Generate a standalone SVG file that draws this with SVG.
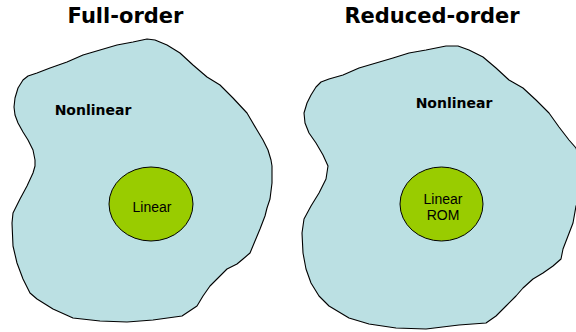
<svg xmlns="http://www.w3.org/2000/svg" width="576" height="332" viewBox="0 0 576 332">
  <style>
    .title { font-family: "DejaVu Sans", Verdana, sans-serif; font-weight: bold; font-size: 21px; fill: #000; text-anchor: middle; }
    .region { fill: #BBE0E3; stroke: #000; stroke-width: 1.1; stroke-linejoin: round; }
    .regionLabel { font-family: "DejaVu Sans", Verdana, sans-serif; font-weight: bold; font-size: 14px; fill: #000; text-anchor: middle; }
    .core { fill: #99CC00; stroke: #000; stroke-width: 1; }
    .coreLabel { font-family: "Liberation Sans", Arial, sans-serif; font-size: 14px; fill: #000; text-anchor: middle; }
  </style>
  <rect width="576" height="332" fill="#fff"/>

  <g id="full-order">
    <text class="title" x="125.5" y="22.5">Full-order</text>
    <path class="region" d="M28,76 L37,73 L50,68 L67,62 L83,55 L100,50 L117,45 L133,42 L147,39 L155,40 L167,45 L180,53 L193,65 L207,77 L220,85 L233,98 L247,113 L257,130 L263,140 L268,150 L271,160 L272,166 L272,183 L270,199 L267,208 L265,216 L260,229 L255,241 L250,253 L243,259 L237,264 L227,269 L217,279 L210,286 L203,296 L197,306 L182,316 L153,320 L127,322 L100,321 L73,318 L53,309 L37,299 L30,293 L23,279 L17,263 L13,246 L12,223 L13,213 L20,199 L27,186 L33,173 L35,166 L35,160 L33,150 L28,140 L23,132 L18,123 L15,115 L14,107 L15,98 L18,88 L23,80 Z"/>
    <text class="regionLabel" x="93" y="115">Nonlinear</text>
  </g>

  <g id="full-linear">
    <ellipse class="core" cx="151" cy="204" rx="42" ry="37"/>
    <text class="coreLabel" x="152" y="212">Linear</text>
  </g>

  <g id="reduced-order">
    <text class="title" x="432" y="22.5">Reduced-order</text>
    <path class="region" d="M321,82 L329,79 L343,75 L359,68 L376,63 L393,58 L409,53 L426,50 L446,46 L458,46 L469,50 L483,57 L496,68 L509,80 L523,88 L536,100 L549,113 L559,127 L569,140 L576,148 L580,160 L580,200 L576,206 L573,223 L568,236 L563,249 L561,259 L553,266 L543,273 L533,279 L523,288 L516,296 L506,306 L496,316 L486,323 L459,325 L426,329 L396,328 L369,324 L349,318 L329,306 L319,296 L311,283 L306,269 L303,253 L302,233 L304,219 L311,206 L319,193 L326,179 L328,166 L323,155 L316,143 L309,133 L305,123 L304,113 L307,103 L311,95 L316,87 Z"/>
    <text class="regionLabel" x="454" y="108">Nonlinear</text>
  </g>

  <g id="reduced-linear-rom">
    <ellipse class="core" cx="441.5" cy="204" rx="41.5" ry="37"/>
    <text class="coreLabel" x="443" y="204">Linear</text>
    <text class="coreLabel" x="443" y="220">ROM</text>
  </g>

  <g id="connectors"/>
</svg>
